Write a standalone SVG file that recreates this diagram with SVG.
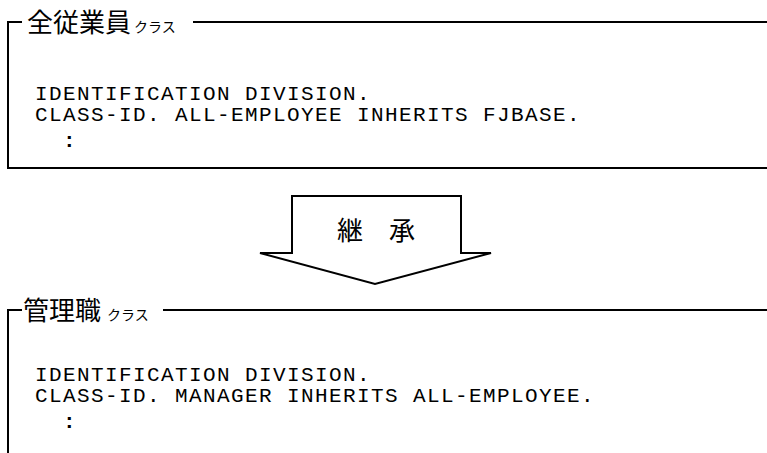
<svg xmlns="http://www.w3.org/2000/svg" width="767" height="453" viewBox="0 0 767 453">
<style>
.ln{fill:none;stroke:#000;stroke-width:2}
.hd{font-family:"Noto Sans CJK JP","Noto Sans CJK SC",sans-serif;font-size:26px;fill:#000}
.sm{font-family:"Noto Sans CJK JP","Noto Sans CJK SC",sans-serif;font-size:14px;fill:#000}
.code{font-family:"Liberation Mono",monospace;font-size:21px;letter-spacing:1.4px;fill:#000}
.col{font-family:"Liberation Mono",monospace;font-size:21px;font-weight:bold;fill:#000}
</style>
<rect width="767" height="453" fill="#fff"/>
<g id="all-employee">
<path class="ln" d="M193,22 H767 M767,168 H8 V22 H22"/>
<text class="hd" x="27" y="32">全従業員</text>
<text class="sm" x="134" y="32">クラス</text>
<text class="code" x="35" y="100">IDENTIFICATION DIVISION.</text>
<text class="code" x="35" y="121">CLASS-ID. ALL-EMPLOYEE INHERITS FJBASE.</text>
<text class="col" x="63" y="147">:</text>
</g>
<g id="connectors">
<polygon class="ln" fill="#fff" points="292,196 461,196 461,253 491,253 375,284 260,253 292,253"/>
<text class="hd" x="376" y="240" text-anchor="middle">継　承</text>
</g>
<g id="manager">
<path class="ln" d="M163,310 H767 M8,453 V310 H22"/>
<text class="hd" x="23" y="320">管理職</text>
<text class="sm" x="107" y="320">クラス</text>
<text class="code" x="35" y="381">IDENTIFICATION DIVISION.</text>
<text class="code" x="35" y="402">CLASS-ID. MANAGER INHERITS ALL-EMPLOYEE.</text>
<text class="col" x="63" y="428">:</text>
</g>
</svg>
